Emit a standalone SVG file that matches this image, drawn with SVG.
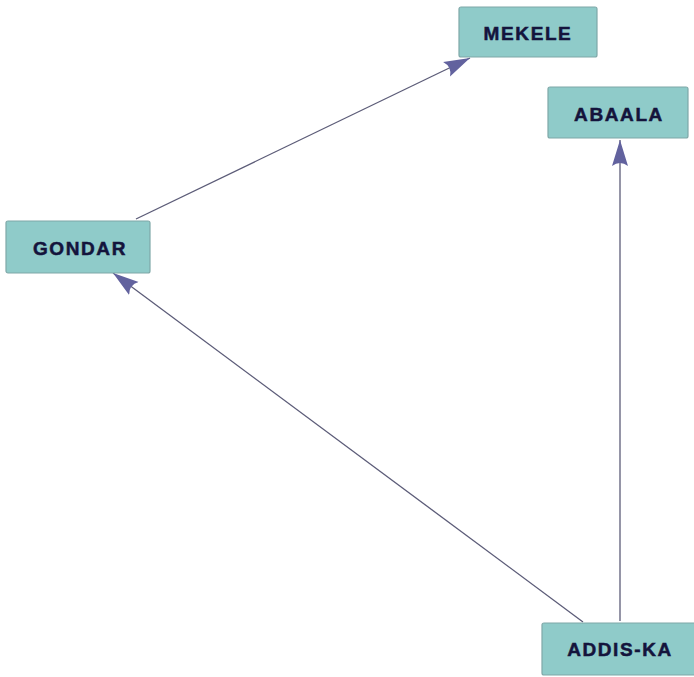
<svg xmlns="http://www.w3.org/2000/svg" width="694" height="677" viewBox="0 0 694 677">
  <style>
    .node rect { fill: #8fcbc9; stroke: #7fa8a8; stroke-width: 1.2; }
    .node text { font-family: "Liberation Sans", Arial, sans-serif; font-weight: bold; font-size: 19px; letter-spacing: 1.6px; fill: #14143c; stroke: #14143c; stroke-width: 0.5; text-anchor: middle; }
    .edge { stroke: #5c5c78; stroke-width: 1.3; fill: none; marker-end: url(#arrow); }
  </style>
  <defs>
    <marker id="arrow" markerUnits="userSpaceOnUse" markerWidth="28" markerHeight="18" viewBox="0 0 28 18" refX="26" refY="9" orient="auto">
      <path d="M0,1 Q6,9 0,17 L26,9 Z" fill="#62629e"/>
    </marker>
  </defs>
  <rect width="694" height="677" fill="#ffffff"/>

  <g id="connectors">
    <line class="edge" x1="136" y1="219" x2="470" y2="58"/>
    <line class="edge" x1="620" y1="621" x2="620" y2="140"/>
    <line class="edge" x1="583" y1="622" x2="113" y2="273"/>
  </g>

  <g id="node-mekele" class="node">
    <rect x="459" y="7" width="138" height="50" rx="2"/>
    <text x="528" y="40">MEKELE</text>
  </g>
  <g id="node-abaala" class="node">
    <rect x="548" y="87" width="140" height="51" rx="2"/>
    <text x="619" y="120.5">ABAALA</text>
  </g>
  <g id="node-gondar" class="node">
    <rect x="6" y="221" width="144" height="52" rx="2"/>
    <text x="80" y="255">GONDAR</text>
  </g>
  <g id="node-addis-ka" class="node">
    <rect x="542" y="623" width="155" height="52" rx="2"/>
    <text x="620" y="656">ADDIS-KA</text>
  </g>
</svg>
